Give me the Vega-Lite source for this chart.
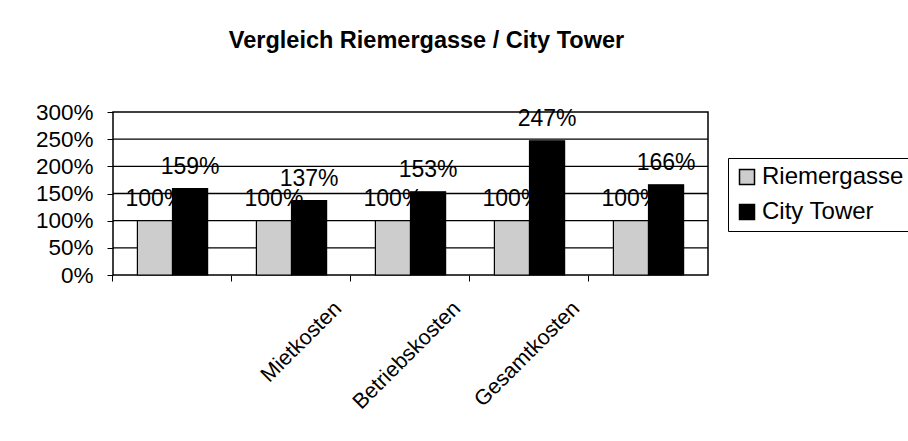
{
  "$schema": "https://vega.github.io/schema/vega-lite/v6.json",
  "width": 595,
  "height": 163,
  "autosize": {"type": "none"},
  "padding": {"left": 113, "top": 112, "right": 200, "bottom": 166},
  "background": "white",
  "config": {"font": "Liberation Sans", "view": {"stroke": "black", "strokeWidth": 1.5}},
  "title": {"text": "Vergleich Riemergasse / City Tower", "fontSize": 23.5, "fontWeight": "bold", "color": "black", "anchor": "middle", "frame": "group", "dx": 16, "offset": 30, "baseline": "alphabetic"},
  "data": {"values": [
    {"kategorie": "leer1", "serie": "Riemergasse", "wert": 1.00},
    {"kategorie": "leer1", "serie": "City Tower", "wert": 1.59},
    {"kategorie": "leer2", "serie": "Riemergasse", "wert": 1.00},
    {"kategorie": "leer2", "serie": "City Tower", "wert": 1.37},
    {"kategorie": "Mietkosten", "serie": "Riemergasse", "wert": 1.00},
    {"kategorie": "Mietkosten", "serie": "City Tower", "wert": 1.53},
    {"kategorie": "Betriebskosten", "serie": "Riemergasse", "wert": 1.00},
    {"kategorie": "Betriebskosten", "serie": "City Tower", "wert": 2.47},
    {"kategorie": "Gesamtkosten", "serie": "Riemergasse", "wert": 1.00},
    {"kategorie": "Gesamtkosten", "serie": "City Tower", "wert": 1.66}
  ]},
  "encoding": {
    "x": {"field": "kategorie", "type": "nominal", "sort": ["leer1", "leer2", "Mietkosten", "Betriebskosten", "Gesamtkosten"],
      "scale": {"paddingInner": 0.41, "paddingOuter": 0.205},
      "axis": {"title": null, "labelExpr": "datum.value == 'leer1' || datum.value == 'leer2' ? '' : datum.value", "labelAngle": -45, "labelAlign": "right", "labelBaseline": "middle", "labelFontSize": 21.5, "labelColor": "black", "bandPosition": -0.349, "labelOffset": -72, "labelPadding": 24, "labelOverlap": false, "labelBound": false, "tickSize": 6, "tickColor": "black", "tickWidth": 1, "domain": false, "grid": false}},
    "xOffset": {"field": "serie", "type": "nominal", "sort": ["Riemergasse", "City Tower"], "scale": {"paddingInner": 0, "paddingOuter": 0}},
    "y": {"field": "wert", "type": "quantitative", "scale": {"domain": [0, 3], "nice": false},
      "axis": {"title": null, "values": [0, 0.5, 1, 1.5, 2, 2.5, 3], "format": ".0%", "labelFontSize": 22.5, "labelColor": "black", "tickSize": 6, "tickColor": "black", "labelPadding": 14, "domain": false, "grid": false}}
  },
  "layer": [
    {"mark": {"type": "text", "baseline": "alphabetic", "dy": -15, "fontSize": 23, "color": "black"},
     "encoding": {"text": {"field": "wert", "type": "quantitative", "format": ".0%"}}},
    {"data": {"values": [{"g": 0.5}, {"g": 1}, {"g": 1.5}, {"g": 2}, {"g": 2.5}]},
     "mark": {"type": "rule", "color": "black", "strokeWidth": 1.3},
     "encoding": {"x": null, "xOffset": null, "y": {"field": "g", "type": "quantitative"}}},
    {"mark": {"type": "bar", "stroke": "black", "strokeWidth": 1.2},
     "encoding": {"fill": {"field": "serie", "type": "nominal", "sort": ["Riemergasse", "City Tower"],
       "scale": {"domain": ["Riemergasse", "City Tower"], "range": ["#cdcdcd", "#000000"]},
       "legend": {"title": null, "orient": "none", "legendX": 615, "legendY": 46, "strokeColor": "black", "padding": 7, "labelFontSize": 24, "labelColor": "black", "symbolType": "square", "symbolSize": 225, "symbolStrokeColor": "black", "symbolStrokeWidth": 1.5, "rowPadding": 11, "labelOffset": 3}}}}
  ]
}
